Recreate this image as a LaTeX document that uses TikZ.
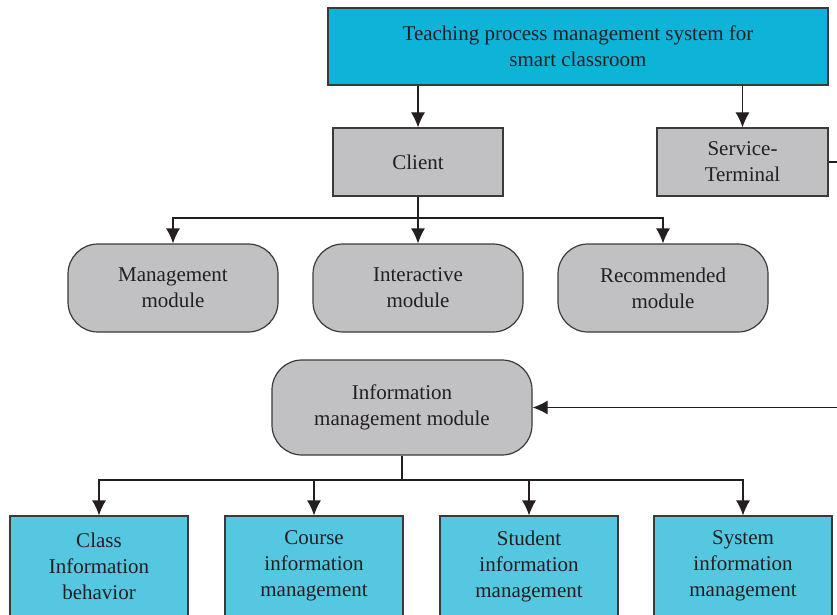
\documentclass[tikz,border=0pt]{standalone}
\usepackage{fontspec}
\setmainfont{Liberation Serif}
\usetikzlibrary{arrows.meta}
\definecolor{topcyan}{HTML}{0DB4D8}
\definecolor{lowcyan}{HTML}{55C7E1}
\definecolor{boxgray}{HTML}{C1C1C3}
\definecolor{edgegray}{HTML}{3A3A3A}
\definecolor{inkdark}{HTML}{231F20}
\tikzset{
  box/.style={draw=edgegray, line width=1.2pt, inner sep=0pt, align=center, text=inkdark,
    font=\fontsize{21}{26}\selectfont},
  mainbox/.style={box, fill=topcyan, minimum width=500pt, minimum height=77pt},
  partbox/.style={box, fill=boxgray, minimum width=170pt, minimum height=68pt},
  modbox/.style={box, fill=boxgray, rounded corners=30pt, minimum width=210pt, minimum height=88pt},
  infobox/.style={box, fill=boxgray, rounded corners=30pt, minimum width=260pt, minimum height=95pt},
  leafbox/.style={box, fill=lowcyan, minimum width=178pt, minimum height=100pt},
  link/.style={draw=inkdark, line width=1.2pt, -{Latex[length=15pt,width=14pt]}},
  bus/.style={draw=inkdark, line width=1.2pt}
}
\begin{document}
\begin{tikzpicture}[x=1pt, y=-1pt]
			%%%%% FRAME %%%%%
			\useasboundingbox (0, 0) rectangle (837, 615);
			\clip (0, 0) rectangle (837, 615);
			
			%%%%% NODES %%%%%
			\node[mainbox] (sys) at (578, 46.5) {Teaching process management system for\\smart classroom};
			
			\node[partbox] (client) at (418, 162) {Client};
			\node[partbox, minimum width=171pt] (serv) at (742.5, 162) {Service-\\Terminal};
			
			\node[modbox] (mgmt) at (173, 288) {Management\\module};
			\node[modbox] (inter) at (418, 288) {Interactive\\module};
			\node[modbox] (recom) at (663, 288) {Recommended\\module};
			
			\node[infobox] (info) at (402, 407.5) {Information\\management module};
			
			\node[leafbox] (cls) at (99, 566) {Class\\Information\\behavior};
			\node[leafbox] (crs) at (314, 566) {Course\\information\\management};
			\node[leafbox] (stu) at (529, 566) {Student\\information\\management};
			\node[leafbox] (sysinfo) at (743, 566) {System\\information\\management};
			
			%%%%% LINKS %%%%%
			\draw[link] (sys.south -| client) -- (client);
			\draw[link] (sys.south -| serv) -- (serv);
			
			\coordinate (cbus) at (418, 218);
			\draw[bus] (client) -- (cbus);
			\draw[link] (cbus) -| (mgmt);
			\draw[link] (cbus) -- (inter);
			\draw[link] (cbus) -| (recom);
			
			\coordinate (loop) at (860, 162);
			\draw[link] (serv) -- (loop) |- (info);
			
			\coordinate (ibus) at (402, 480);
			\draw[bus] (info) -- (ibus);
			\draw[link] (ibus) -| (cls);
			\draw[link] (ibus) -| (crs);
			\draw[link] (ibus) -| (stu);
			\draw[link] (ibus) -| (sysinfo);
\end{tikzpicture}
\end{document}
